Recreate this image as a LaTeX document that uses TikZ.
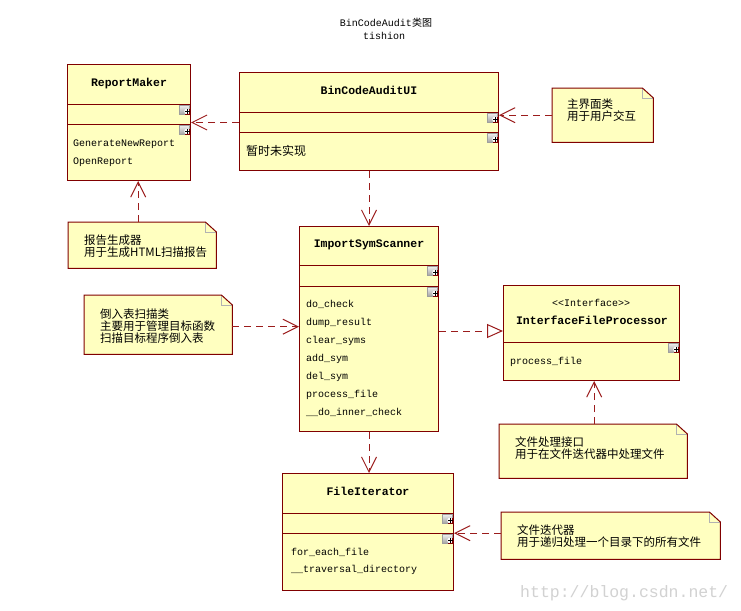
\documentclass[tikz,border=0pt]{standalone}
\usepackage{fontspec}
\setmonofont{Liberation Mono}
\newfontfamily\cjk{Noto Sans CJK SC}
\usetikzlibrary{arrows.meta,calc}
\definecolor{boxfill}{HTML}{FFFFC0}
\definecolor{boxline}{HTML}{800000}
\definecolor{arrowc}{HTML}{9B1C1C}
\newcommand{\drawnote}[1]{%
  \fill[boxfill] (#1.north west) -- ([xshift=-11pt]#1.north east) -- ([yshift=-10pt]#1.north east) -- (#1.south east) -- (#1.south west) -- cycle;
  \draw[gray!60, line width=0.6pt] ([xshift=-11pt]#1.north east) -- ([xshift=-11pt,yshift=-10pt]#1.north east) -- ([yshift=-10pt]#1.north east);
  \draw[boxline, line width=1pt] (#1.north west) -- ([xshift=-11pt]#1.north east) -- ([yshift=-10pt]#1.north east) -- (#1.south east) -- (#1.south west) -- cycle;
}
\tikzset{
  classbox/.style={draw=boxline, fill=boxfill, line width=1pt, rectangle, inner sep=0pt, anchor=north west},
  notebox/.style={draw=none, rectangle, inner sep=0pt, anchor=north west},
  classname/.style={font=\ttfamily\bfseries\fontsize{11.5}{13}\selectfont, inner sep=0pt, anchor=base},
  stereo/.style={font=\ttfamily\fontsize{10}{12}\selectfont, inner sep=0pt, anchor=base},
  member/.style={font=\ttfamily\fontsize{10}{12}\selectfont, inner sep=0pt, anchor=base west},
  cjkmember/.style={font=\cjk\fontsize{12}{12}\selectfont, inner sep=0pt, anchor=base west},
  notetext/.style={font=\cjk\fontsize{11.5}{12}\selectfont, align=left, inner sep=0pt, anchor=west},
  divider/.style={draw=boxline, line width=1pt},
  dep/.style={draw=arrowc, line width=1pt, dash pattern=on 7pt off 5pt, -{Straight Barb[length=15pt,width=15pt,line width=1pt]}},
  real/.style={draw=arrowc, line width=1pt, dash pattern=on 7pt off 5pt, -{Triangle[length=16pt,width=14pt,fill=white,line width=1pt]}},
  plusicon/.pic={
    \shade[top color=gray!10, bottom color=gray!70] (-10.5pt,-1pt) rectangle (-1pt,-10pt);
    \draw[gray!75, line width=0.5pt] (-10.5pt,-1pt) rectangle (-1pt,-10pt);
    \fill[white] (-3pt,-7.5pt) circle (2.8pt);
    \draw[boxline, line width=0.7pt] (-0.5pt,-5pt) -- (-0.5pt,-10.5pt) -- (-5.5pt,-10.5pt);
    \draw[black, line width=0.9pt] (-5.5pt,-7.5pt) -- (-0.5pt,-7.5pt) (-3pt,-5pt) -- (-3pt,-10pt);
  }
}
\begin{document}
\begin{tikzpicture}[x=1pt,y=-1pt]
\useasboundingbox (0,0) rectangle (741,610);
\fill[white] (0,0) rectangle (741,610);

% title
\node[font=\fontsize{10}{12}\selectfont, inner sep=0pt, anchor=base] (title) at (386,27) {\ttfamily BinCodeAudit\cjk 类图};
\node[font=\ttfamily\fontsize{10}{12}\selectfont, inner sep=0pt, anchor=base] (author) at (384,40) {tishion};

% ReportMaker
\node[classbox, minimum width=123pt, minimum height=116pt] (rm) at (67,64) {};
\draw[divider] ([yshift=-40pt]rm.north west) -- ([yshift=-40pt]rm.north east);
\draw[divider] ([yshift=-60pt]rm.north west) -- ([yshift=-60pt]rm.north east);
\node[classname] (rmname) at (129,86) {ReportMaker};
\node[member] (rm1) at (73,146) {GenerateNewReport};
\node[member] (rm2) at (73,164) {OpenReport};
\pic at (190,104) {plusicon};
\pic at (190,124) {plusicon};

% BinCodeAuditUI
\node[classbox, minimum width=259pt, minimum height=98pt] (ui) at (239,72) {};
\draw[divider] ([yshift=-40pt]ui.north west) -- ([yshift=-40pt]ui.north east);
\draw[divider] ([yshift=-60pt]ui.north west) -- ([yshift=-60pt]ui.north east);
\node[classname] (uiname) at (369,94) {BinCodeAuditUI};
\node[cjkmember] (ui1) at (246,155) {暂时未实现};
\pic at (498,112) {plusicon};
\pic at (498,132) {plusicon};

% ImportSymScanner
\node[classbox, minimum width=139pt, minimum height=205pt] (iss) at (299,226) {};
\draw[divider] ([yshift=-39pt]iss.north west) -- ([yshift=-39pt]iss.north east);
\draw[divider] ([yshift=-60pt]iss.north west) -- ([yshift=-60pt]iss.north east);
\node[classname] (issname) at (369,247) {ImportSymScanner};
\node[member] (iss1) at (306,307) {do\_check};
\node[member] (iss2) at (306,325) {dump\_result};
\node[member] (iss3) at (306,343) {clear\_syms};
\node[member] (iss4) at (306,361) {add\_sym};
\node[member] (iss5) at (306,379) {del\_sym};
\node[member] (iss6) at (306,397) {process\_file};
\node[member] (iss7) at (306,415) {\_\_do\_inner\_check};
\pic at (438,265) {plusicon};
\pic at (438,286) {plusicon};

% InterfaceFileProcessor
\node[classbox, minimum width=176pt, minimum height=95pt] (ifp) at (503,285) {};
\draw[divider] ([yshift=-57pt]ifp.north west) -- ([yshift=-57pt]ifp.north east);
\node[stereo] (ifpst) at (591,306) {<<Interface>>};
\node[classname] (ifpname) at (592,324) {InterfaceFileProcessor};
\node[member] (ifp1) at (510,364) {process\_file};
\pic at (679,342) {plusicon};

% FileIterator
\node[classbox, minimum width=171pt, minimum height=117pt] (fi) at (282,473) {};
\draw[divider] ([yshift=-40pt]fi.north west) -- ([yshift=-40pt]fi.north east);
\draw[divider] ([yshift=-60pt]fi.north west) -- ([yshift=-60pt]fi.north east);
\node[classname] (finame) at (368,495) {FileIterator};
\node[member] (fi1) at (291,555) {for\_each\_file};
\node[member] (fi2) at (291,572) {\_\_traversal\_directory};
\pic at (453,513) {plusicon};
\pic at (453,533) {plusicon};

% notes
\node[notebox, minimum width=101pt, minimum height=54pt] (n1) at (552,88) {};
\drawnote{n1}
\node[notetext] (n1t) at (567,110.5) {主界面类\\用于用户交互};

\node[notebox, minimum width=148pt, minimum height=46pt] (n2) at (68,222) {};
\drawnote{n2}
\node[notetext] (n2t) at (84,246) {报告生成器\\用于生成HTML扫描报告};

\node[notebox, minimum width=148pt, minimum height=59pt] (n3) at (84,295) {};
\drawnote{n3}
\node[notetext] (n3t) at (100,326) {倒入表扫描类\\主要用于管理目标函数\\扫描目标程序倒入表};

\node[notebox, minimum width=188pt, minimum height=54pt] (n4) at (499,424) {};
\drawnote{n4}
\node[notetext] (n4t) at (515,448) {文件处理接口\\用于在文件迭代器中处理文件};

\node[notebox, minimum width=219pt, minimum height=47pt] (n5) at (501,512) {};
\drawnote{n5}
\node[notetext] (n5t) at (517,536) {文件迭代器\\用于递归处理一个目录下的所有文件};

% connectors
\draw[dep] (ui.west |- rm.east) -- (rm.east);
\draw[dep] (n1.west) -- (n1.west -| ui.east);
\draw[dep] ([xshift=-4pt]n2.north) -- ([xshift=-4pt]n2.north |- rm.south);
\draw[dep] (ui.south) -- (ui.south |- iss.north);
\draw[dep] ([yshift=-2pt]n3.east) -- ([yshift=-2pt]n3.east -| iss.west);
\draw[real] ([yshift=2pt]ifp.west -| iss.east) -- ([yshift=2pt]ifp.west);
\draw[dep] ([xshift=1pt]n4.north) -- ([xshift=1pt]n4.north |- ifp.south);
\draw[dep] (iss.south) -- (iss.south |- fi.north);
\draw[dep] ([yshift=2.5pt]n5.west) -- ([yshift=2.5pt]n5.west -| fi.east);

% watermark
\node[font=\ttfamily\fontsize{16.5}{18}\selectfont, text=gray!35, inner sep=0pt, anchor=base west] (wm) at (520,597) {http://blog.csdn.net/};
\end{tikzpicture}
\end{document}
